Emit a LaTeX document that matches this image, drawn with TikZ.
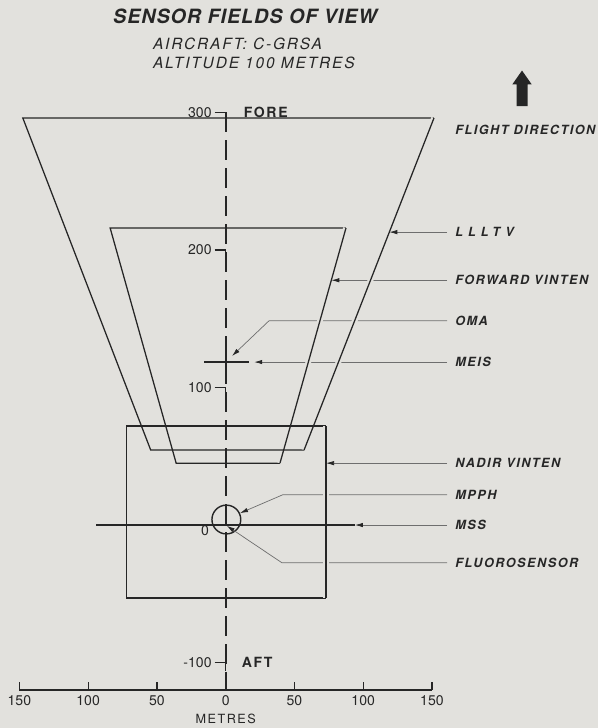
\documentclass[tikz,border=0pt]{standalone}
\usepackage{fontspec}
\setsansfont{TeX Gyre Heros}
\newfontfamily\lblfont[LetterSpace=12]{TeX Gyre Heros}
\newfontfamily\ttlfont[LetterSpace=5]{TeX Gyre Heros}
\usetikzlibrary{arrows.meta}
\definecolor{paper}{RGB}{226,225,221}
\definecolor{ink}{RGB}{38,38,38}
\definecolor{leadgray}{RGB}{110,110,110}

\begin{document}
\begin{tikzpicture}[x=.034375cm,y=.034375cm,
  outline/.style={draw=ink,line width=.9pt},
  cutout/.style={preaction={draw=paper,line width=4pt}},
  leader/.style={draw=leadgray,line width=.5pt,-{Latex[length=2mm,width=1.1mm,color=ink]}},
  lbl/.style={anchor=west,inner xsep=2mm,inner ysep=0pt,text=ink,font=\lblfont\bfseries\itshape\fontsize{9}{10}\selectfont},
  num/.style={inner sep=0pt,text=ink,font=\sffamily\fontsize{10}{11}\selectfont},
  axlbl/.style={inner sep=0pt,text=ink,font=\lblfont\bfseries\fontsize{10}{11}\selectfont}]
  \path[use as bounding box,fill=paper] (-164.1,-147.6) rectangle (270.8,381.8);

  \node[anchor=west,inner sep=0pt,text=ink,font=\ttlfont\bfseries\itshape\fontsize{14}{16}\selectfont] (title) at (-82,370) {SENSOR FIELDS OF VIEW};
  \node[anchor=west,inner sep=0pt,text=ink,font=\lblfont\itshape\fontsize{11}{13}\selectfont] (craft) at (-53,350) {AIRCRAFT: C-GRSA};
  \node[anchor=west,inner sep=0pt,text=ink,font=\lblfont\itshape\fontsize{11}{13}\selectfont] (alt) at (-53,336) {ALTITUDE 100 METRES};

  \coordinate (o) at (0,0);
  \coordinate (lltl) at (-147.5,296);
  \coordinate (lltr) at (151.5,296);
  \coordinate (llbr) at (57,54.5);
  \coordinate (llbl) at (-54.5,54.5);
  \coordinate (fvtl) at (-84,216);
  \coordinate (fvtr) at (87.5,216);
  \coordinate (fvbr) at (39.5,45);
  \coordinate (fvbl) at (-36,45);
  \coordinate (nvtl) at (-72,72);
  \coordinate (nvtr) at (73,72);
  \coordinate (nvbr) at (73,-53);
  \coordinate (nvbl) at (-72,-53);
  \coordinate (mssl) at (-94,0);
  \coordinate (mssr) at (94,0);
  \coordinate (meisc) at (0,118.5);
  \coordinate (meisl) at (-15.5,118.5);
  \coordinate (meisr) at (17,118.5);
  \path (lltr) -- (llbr) coordinate[pos=.344] (llhit);
  \path (fvtr) -- (fvbr) coordinate[pos=.222] (fvhit);

  \node[lbl] (fd) at (161,287) {FLIGHT DIRECTION};
  \node[lbl] (lll) at (161,213) {\addfontfeature{LetterSpace=40}LLLTV};
  \node[lbl] (fv) at (161,178) {FORWARD VINTEN};
  \node[lbl] (oma) at (161,148.5) {OMA};
  \node[lbl] (meis) at (161,118.5) {MEIS};
  \node[lbl] (nv) at (161,45) {NADIR VINTEN};
  \node[lbl] (mpph) at (161,22) {MPPH};
  \node[lbl] (mss) at (161,0) {MSS};
  \node[lbl] (flu) at (161,-27.5) {FLUOROSENSOR};
  \node[draw=ink,line width=1pt,circle,minimum size=7.2mm,inner sep=0pt] (mpphc) at (0.5,4) {};

  \coordinate (omak) at (31.5,148.5);
  \coordinate (mpphk) at (41.5,22);
  \coordinate (fluk) at (41,-27.5);
  \draw[leader,shorten >=2.2mm] (oma.west) -- (omak) -- (meisc);
  \draw[leader,shorten >=1.3mm] (meis.west) -- (meisr);
  \draw[leader] (mpph.west) -- (mpphk) -- (mpphc.25);
  \draw[leader,shorten >=1pt] (flu.west) -- (fluk) -- (o);

  \draw[outline] (fvtr) -- (fvtl) -- (fvbl) -- (fvbr);
  \draw[outline,cutout] (fvtr) -- (fvbr);
  \draw[leader] (fv.west) -- (fv.west -| fvhit);
  \draw[outline] (lltr) -- (lltl) -- (llbl) -- (llbr);
  \draw[outline,cutout] (lltr) -- (llbr);
  \draw[leader] (lll.west) -- (lll.west -| llhit);
  \draw[outline] (nvtr) -- (nvtl) -- (nvbl) -- (nvbr);
  \draw[outline,cutout] (nvtr) -- (nvbr);
  \draw[leader] (nv.west) -- (nv.west -| nvtr);

  \draw[draw=ink,line width=1.5pt] (mssl) -- (mssr);
  \draw[leader] (mss.west) -- (mssr);
  \draw[draw=ink,line width=1.3pt] (meisl) -- (meisr) (0,127.5) -- (0,109.5);
  \fill[ink] (meisc) circle (1.3pt);

  \draw[draw=ink,line width=1.3pt,dash pattern=on .5cm off .2cm] (0,300) -- (0,-120);
  \foreach \v in {300,200,100,-100}{
    \draw[outline] (-8,\v) -- (0,\v) -- (0,\v-6);
    \node[num,anchor=east] (vt\v) at (-10,\v) {\v};
  }
  \node[axlbl,anchor=west] (fore) at (13,300) {FORE};
  \node[axlbl,anchor=west] (aft) at (11.5,-100) {AFT};
  \node[num] (zero) at (-15,-4) {0};

  \draw[outline] (-150,-120) -- (150,-120);
  \foreach \h/\t [count=\i] in {-150/150,-100/100,-50/50,0/0,50/50,100/100,150/150}{
    \draw[outline] (\h,-120) -- (\h,-114);
    \node[num] (ht\i) at (\h,-127.5) {\t};
  }
  \node[axlbl,font=\lblfont\fontsize{9}{10}\selectfont] (metres) at (0,-141) {METRES};

  \fill[ink] (211.5,304.7) -- (211.5,320.5) -- (208.5,320.5) -- (215.5,330.5)
    -- (222.5,320.5) -- (219.5,320.5) -- (219.5,304.7) -- cycle;
\end{tikzpicture}
\end{document}
